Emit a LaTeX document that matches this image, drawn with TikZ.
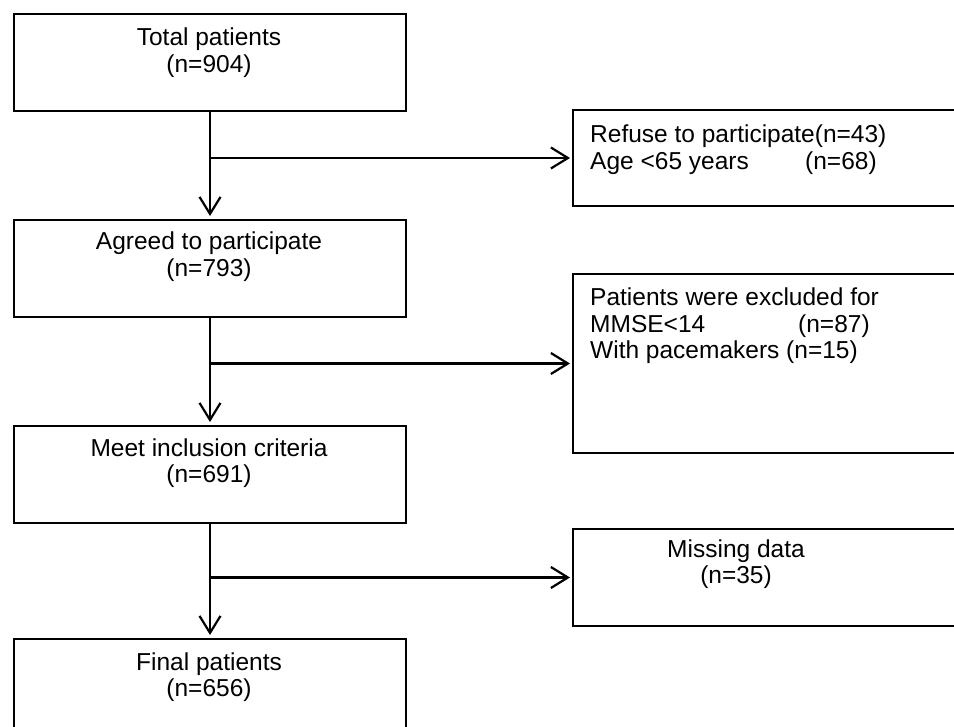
\documentclass[tikz,border=0pt]{standalone}
\usepackage{fontspec}
\setmainfont{Liberation Sans}
\usetikzlibrary{arrows.meta,calc}
\begin{document}
\begin{tikzpicture}[x=1pt,y=-1pt,
  box/.style={draw=black,line width=2pt,rectangle,inner sep=0pt,anchor=north west},
  lbox/.style={box,minimum width=392pt,minimum height=97pt},
  ctext/.style={anchor=base,align=center,inner sep=0pt,font=\fontsize{24.5}{26.5}\selectfont},
  ltext/.style={anchor=base west,align=left,inner sep=0pt,font=\fontsize{24.5}{26.5}\selectfont},
  flow/.style={line width=2.2pt,-{Straight Barb[length=17pt,width=21pt]},shorten >=3pt},
  side/.style={line width=2.2pt,-{Straight Barb[length=17pt,width=21pt]},shorten >=2pt}]
\useasboundingbox (0,0) rectangle (954,727);
\fill[white] (0,0) rectangle (954,727);
\clip (0,0) rectangle (954,727);
% left column boxes
\node[lbox] (b1) at (13,13) {};
\node[lbox] (b2) at (13,219) {};
\node[lbox] (b3) at (13,425) {};
\node[lbox] (b4) at (13,638) {};
% right column boxes
\node[box,minimum width=440pt,minimum height=96pt] (r1) at (572,109) {};
\node[box,minimum width=440pt,minimum height=179pt] (r2) at (572,273) {};
\node[box,minimum width=440pt,minimum height=97pt] (r3) at (572,528) {};
% texts (anchor = baseline of the last line)
\node[ctext] (t1) at (209,72.5) {Total patients\\(n=904)};
\node[ctext] (t2) at (209,276.5) {Agreed to participate\\(n=793)};
\node[ctext] (t3) at (209,482.5) {Meet inclusion criteria\\(n=691)};
\node[ctext] (t4) at (209,696.5) {Final patients\\(n=656)};
\node[ltext] (u1) at (590,169.5) {Refuse to participate(n=43)\\\makebox[215pt][l]{Age <65 years}(n=68)};
\node[ltext] (u2) at (590,359) {Patients were excluded for\\\makebox[208pt][l]{MMSE<14}(n=87)\\With pacemakers (n=15)};
\node[ctext] (u3) at (736,583.5) {Missing data\\(n=35)};
% connectors
\draw[flow] (b1.south) -- (b2.north);
\draw[flow] (b2.south) -- (b3.north);
\draw[flow] (b3.south) -- (b4.north);
\draw[side] (b1.south |- r1.west) -- (r1.west);
\draw[side] (b2.south |- r2.west) -- (r2.west);
\draw[side] (b3.south |- r3.west) -- (r3.west);
\end{tikzpicture}
\end{document}
